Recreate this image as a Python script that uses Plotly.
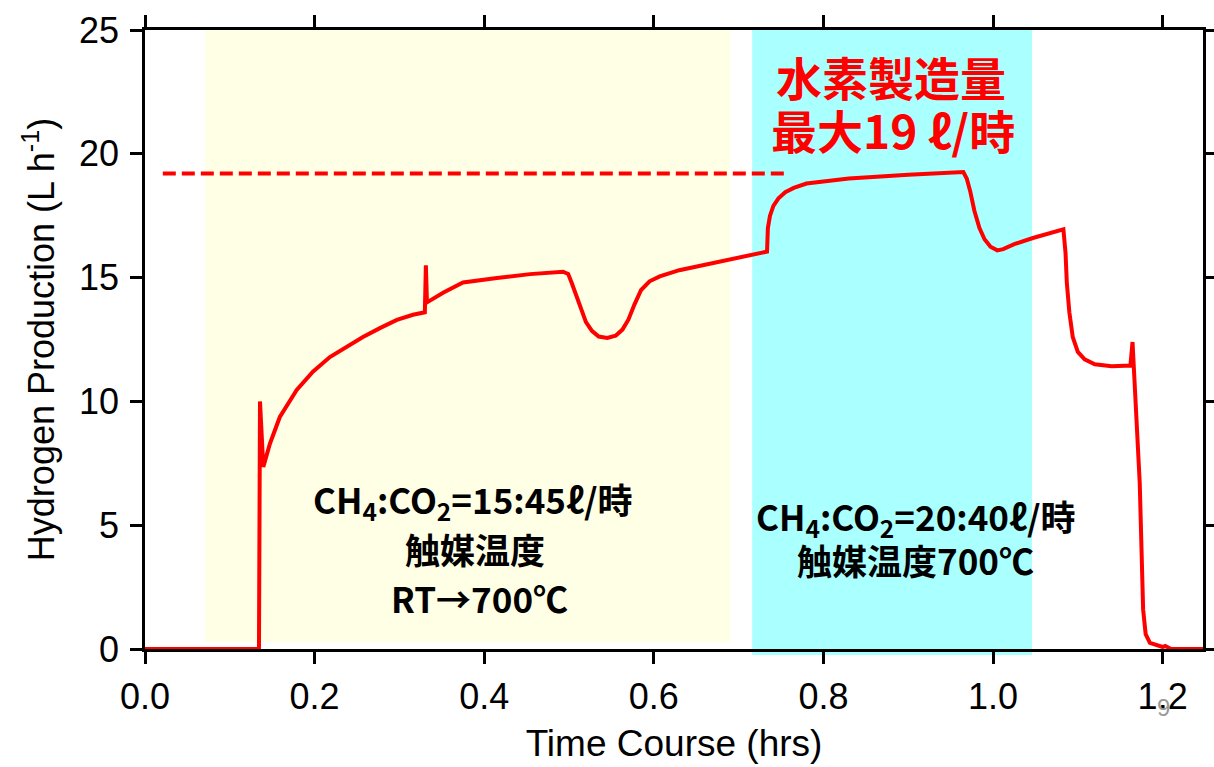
import plotly.graph_objects as go

# ---------------- data ----------------
time_hrs = [0.0, 0.1334, 0.1344, 0.1356, 0.1395, 0.1474, 0.159, 0.1789, 0.198, 0.218,
            0.238, 0.257, 0.277, 0.297, 0.316, 0.330, 0.3312, 0.3325, 0.352, 0.375,
            0.415, 0.454, 0.493, 0.499, 0.503, 0.508, 0.514, 0.520, 0.527, 0.535,
            0.545, 0.555, 0.563, 0.570, 0.577, 0.585, 0.595, 0.607, 0.630, 0.670,
            0.7335, 0.7345, 0.737, 0.741, 0.747, 0.755, 0.765, 0.780, 0.830, 0.900,
            0.965, 0.969, 0.973, 0.978, 0.984, 0.990, 0.997, 1.005, 1.012, 1.025,
            1.047, 1.083, 1.0855, 1.087, 1.090, 1.094, 1.100, 1.108, 1.120, 1.140,
            1.162, 1.1645, 1.166, 1.173, 1.177, 1.180, 1.185, 1.200, 1.203, 1.210,
            1.2476]
h2_production = [0.0, 0.0, 0.0, 10.0, 7.35, 8.3, 9.37, 10.46, 11.2, 11.79,
                 12.2, 12.6, 12.96, 13.29, 13.5, 13.6, 15.5, 14.0, 14.4, 14.8,
                 14.98, 15.14, 15.24, 15.15, 14.8, 14.3, 13.7, 13.2, 12.85, 12.62,
                 12.56, 12.65, 12.9, 13.3, 13.9, 14.5, 14.85, 15.05, 15.3, 15.6,
                 16.05, 17.0, 17.5, 17.9, 18.2, 18.45, 18.62, 18.8, 19.0, 19.15,
                 19.26, 19.0, 18.5, 17.7, 17.0, 16.55, 16.25, 16.1, 16.15, 16.35,
                 16.6, 16.95, 16.0, 14.8, 13.6, 12.6, 12.0, 11.7, 11.5, 11.42,
                 11.45, 12.4, 11.4, 6.7, 1.6, 0.6, 0.25, 0.08, 0.12, 0.0,
                 0.0]

max_line_x = [0.021, 0.758]
max_line_y = [19.2, 19.2]

band_heating = [0.0708, 0.690]     # yellow: RT -> 700C
band_steady = [0.716, 1.046]       # cyan: 700C

x_ticks = [0.0, 0.2, 0.4, 0.6, 0.8, 1.0, 1.2]
x_tick_labels = ["0.0", "0.2", "0.4", "0.6", "0.8", "1.0", "1.2"]
y_ticks = [0, 5, 10, 15, 20, 25]
y_tick_labels = ["0", "5", "10", "15", "20", "25"]

X_RANGE = [0, 1.2476]
Y_RANGE = [0, 25]

# ---------------- figure ----------------
fig = go.Figure()

fig.add_trace(go.Scatter(
    x=max_line_x, y=max_line_y, mode="lines",
    line=dict(color="#FF0000", width=4, dash="13px,6px"),
    hoverinfo="skip", showlegend=False))

fig.add_trace(go.Scatter(
    x=time_hrs, y=h2_production, mode="lines",
    line=dict(color="#FF0000", width=4),
    hoverinfo="skip", showlegend=False))

fig.add_shape(type="rect", xref="x", yref="paper",
              x0=band_heating[0], x1=band_heating[1], y0=0.0113, y1=1.0,
              fillcolor="#FFFFE6", line=dict(width=0), layer="below")
fig.add_shape(type="rect", xref="x", yref="paper",
              x0=band_steady[0], x1=band_steady[1], y0=-0.0097, y1=1.0,
              fillcolor="#AAFFFF", line=dict(width=0), layer="below")

SANS = "Liberation Sans, Arial, sans-serif"
axis_font = dict(family=SANS, size=36, color="black")
cjk = "Noto Sans CJK JP, sans-serif"

common = dict(showgrid=False, zeroline=False, showline=True, linecolor="black",
              linewidth=2.5, ticks="outside", ticklen=12, tickwidth=2.5,
              tickcolor="black", mirror="allticks", tickfont=axis_font,
              automargin=False)

fig.update_xaxes(range=X_RANGE, tickvals=x_ticks, ticktext=x_tick_labels,
                 ticklabelstandoff=2,
                 title=dict(text="Time Course (hrs)",
                            font=dict(family=SANS, size=37, color="black"),
                            standoff=15),
                 **common)
fig.update_yaxes(range=Y_RANGE, tickvals=y_ticks, ticktext=y_tick_labels,
                 ticklabelstandoff=4,
                 title=dict(text="Hydrogen Production (L h<sup>-1</sup>)",
                            font=dict(family=SANS, size=36, color="black"),
                            standoff=14),
                 **common)

W, H = 1214, 767
ML, MR, MT, MB = 145, 11, 30, 118


def px(xp):
    return (xp - ML) / (W - ML - MR)


def py(yp):
    return (H - MB - yp) / (H - MB - MT)


def txt(text, xp, yp, size, color, bold=True):
    fig.add_annotation(text=f"<b>{text}</b>" if bold else text,
                       xref="paper", yref="paper", x=px(xp), y=py(yp),
                       xanchor="center", yanchor="middle", showarrow=False,
                       font=dict(family=cjk, size=size, color=color))


txt("水素製造量", 891, 76, 46, "#FF0000")
txt("最大19 ℓ/時", 893, 129, 46, "#FF0000")

txt("CH<sub>4</sub>:CO<sub>2</sub>=15:45ℓ/時", 473, 500, 35, "black")
txt("触媒温度", 475, 548, 35, "black")
txt("RT→700℃", 479, 597, 35, "black")

txt("CH<sub>4</sub>:CO<sub>2</sub>=20:40ℓ/時", 916, 517, 35, "black")
txt("触媒温度700℃", 915, 559, 35, "black")

fig.add_annotation(text="9", xref="paper", yref="paper", x=px(1163), y=py(707),
                   xanchor="center", yanchor="middle", showarrow=False,
                   font=dict(family=SANS, size=24, color="#999999"))

fig.update_layout(width=W, height=H, autosize=False,
                  margin=dict(l=ML, r=MR, t=MT, b=MB, pad=0, autoexpand=False),
                  plot_bgcolor="white", paper_bgcolor="white",
                  showlegend=False, hovermode=False)

fig.write_html("out.html",
               config={"displayModeBar": False, "responsive": False},
               post_script=("document.body.style.margin='0px';"
                            "document.body.style.overflow='hidden';"))
